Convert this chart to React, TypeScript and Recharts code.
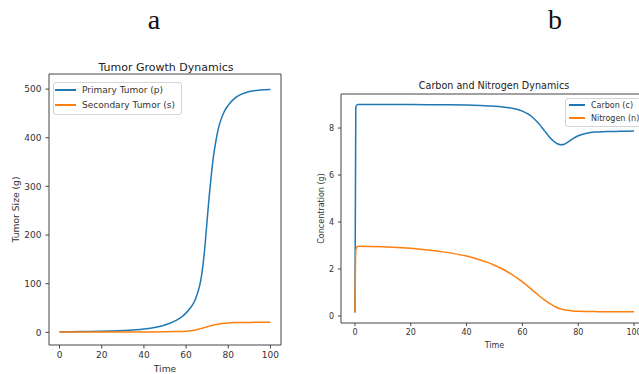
import { LineChart, Line, XAxis, YAxis, Legend, Label, ReferenceLine } from "recharts";

// panel a: tumor growth
const tumorTime = [0, 10, 20, 30, 40, 45, 50, 55, 58, 60, 62, 64, 65, 66, 67, 68, 69, 70, 71, 72, 73, 74, 75, 76, 78, 80, 83, 86, 90, 95, 100];
const primaryTumor = [1, 1.5, 2.3, 3.8, 7, 10, 15, 24, 32, 40, 50, 64, 75, 89, 108, 138, 180, 232, 282, 325, 362, 390, 413, 430, 453, 467, 481, 489, 495, 498, 499];
const secondaryTumor = [0.5, 0.5, 0.6, 0.7, 0.8, 0.9, 1.1, 1.5, 2, 2.5, 3.2, 4.5, 5.4, 6.5, 7.7, 9, 10.2, 11.5, 12.8, 14, 15, 16, 16.8, 17.5, 18.7, 19.4, 20, 20.3, 20.5, 20.6, 20.6];

// panel b: carbon / nitrogen
const cnTime = [0, 0.3, 1, 10, 20, 30, 40, 45, 48, 50, 53, 56, 58, 60, 62, 64, 66, 68, 69, 70, 71, 72, 73, 74, 75, 76, 78, 80, 83, 86, 90, 95, 100];
const carbon = [0.15, 8.9, 9.0, 9.0, 9.0, 8.99, 8.98, 8.96, 8.94, 8.93, 8.9, 8.85, 8.8, 8.72, 8.6, 8.42, 8.17, 7.87, 7.72, 7.58, 7.46, 7.37, 7.31, 7.29, 7.31, 7.38, 7.54, 7.67, 7.78, 7.83, 7.85, 7.86, 7.87];
const nitrogen = [0.15, 2.8, 2.97, 2.95, 2.88, 2.75, 2.55, 2.38, 2.26, 2.16, 1.99, 1.78, 1.62, 1.45, 1.26, 1.06, 0.86, 0.67, 0.59, 0.51, 0.44, 0.38, 0.33, 0.29, 0.26, 0.24, 0.215, 0.2, 0.19, 0.185, 0.18, 0.18, 0.18];

const timeTicks = [0, 20, 40, 60, 80, 100];
const tumorTicks = [0, 100, 200, 300, 400, 500];
const concTicks = [0, 2, 4, 6, 8];

const BLUE = "#1f77b4";
const ORANGE = "#ff7f0e";
const FONT = "DejaVu Sans";
const TEXT = "#333";
const SPINE = "#444";

const tumorData = tumorTime.map((t, i) => ({ t, p: primaryTumor[i], s: secondaryTumor[i] }));
const cnData = cnTime.map((t, i) => ({ t, c: carbon[i], n: nitrogen[i] }));

const yLabel = (text: string, x: number, size: number) => (props: any) => {
  const vb = props.viewBox;
  const cy = vb.y + vb.height / 2;
  return (
    <text
      x={x}
      y={cy}
      transform={`rotate(-90 ${x} ${cy})`}
      textAnchor="middle"
      dominantBaseline="central"
      fontSize={size}
      fill={TEXT}
      fontFamily={FONT}
    >
      {text}
    </text>
  );
};

const LegendBox = ({ items, fontSize, lineW, rowH, pad }: any) => (
  <div
    style={{
      border: "1px solid #d4d4d4",
      borderRadius: 3,
      background: "rgba(255,255,255,0.85)",
      padding: pad,
      fontFamily: FONT,
      fontSize,
      color: TEXT,
      whiteSpace: "nowrap",
    }}
  >
    {items.map((it: any) => (
      <div key={it.label} style={{ display: "flex", alignItems: "center", height: rowH }}>
        <span style={{ width: lineW, height: 2, background: it.color, marginRight: 6 }} />
        {it.label}
      </div>
    ))}
  </div>
);

const Title = ({ text, x, top, size }: any) => (
  <div
    style={{
      position: "absolute",
      left: x,
      top,
      transform: "translateX(-50%)",
      fontFamily: FONT,
      fontSize: size,
      lineHeight: `${size}px`,
      color: "#222",
      whiteSpace: "nowrap",
    }}
  >
    {text}
  </div>
);

const PanelLetter = ({ text, x }: any) => (
  <div
    style={{
      position: "absolute",
      left: x,
      top: 6,
      transform: "translateX(-50%)",
      fontFamily: "Liberation Serif",
      fontSize: 28,
      lineHeight: "28px",
      color: "#111",
    }}
  >
    {text}
  </div>
);

export default function App() {
  return (
    <div
      style={{
        position: "fixed",
        left: 0,
        top: 0,
        width: 639,
        height: 374,
        overflow: "hidden",
        background: "#fff",
      }}
    >
      <PanelLetter text="a" x={154} />
      <PanelLetter text="b" x={555} />
      <Title text="Tumor Growth Dynamics" x={166} top={62} size={11} />
      <Title text="Carbon and Nitrogen Dynamics" x={494} top={81} size={9.6} />

      <div style={{ position: "absolute", left: 0, top: 0 }}>
        <LineChart width={300} height={374} data={tumorData} margin={{ top: 74, right: 19, bottom: 2, left: 5 }}>
          <XAxis
            dataKey="t"
            type="number"
            domain={[-5, 105]}
            ticks={timeTicks}
            height={27}
            stroke={SPINE}
            tickSize={3.5}
            tickMargin={3}
            tick={{ fontSize: 9, fill: TEXT, fontFamily: FONT }}
          >
            <Label value="Time" position="insideBottom" offset={0} fontSize={9.2} fill={TEXT} fontFamily={FONT} />
          </XAxis>
          <YAxis
            type="number"
            domain={[-26, 531]}
            ticks={tumorTicks}
            width={44}
            stroke={SPINE}
            tickSize={3.5}
            tickMargin={4}
            tick={{ fontSize: 9, fill: TEXT, fontFamily: FONT }}
          >
            <Label content={yLabel("Tumor Size (g)", 15, 9.2)} />
          </YAxis>
          <ReferenceLine y={531} stroke={SPINE} ifOverflow="visible" />
          <ReferenceLine x={105} stroke={SPINE} ifOverflow="visible" />
          <Legend
            layout="vertical"
            align="center"
            verticalAlign="middle"
            wrapperStyle={{ left: 53, top: 82, width: "auto", height: "auto" }}
            content={() => (
              <LegendBox
                fontSize={9}
                lineW={21}
                rowH={14.4}
                pad="0 6px 2px 1px"
                items={[
                  { label: "Primary Tumor (p)", color: BLUE },
                  { label: "Secondary Tumor (s)", color: ORANGE },
                ]}
              />
            )}
          />
          <Line type="monotone" dataKey="p" stroke={BLUE} strokeWidth={1.5} dot={false} isAnimationActive={false} />
          <Line type="monotone" dataKey="s" stroke={ORANGE} strokeWidth={1.5} dot={false} isAnimationActive={false} />
        </LineChart>
      </div>

      <div style={{ position: "absolute", left: 290, top: 0 }}>
        <LineChart width={358} height={374} data={cnData} margin={{ top: 94, right: 0, bottom: 25, left: 20 }}>
          <XAxis
            dataKey="t"
            type="number"
            domain={[-5, 105]}
            ticks={timeTicks}
            height={26}
            stroke={SPINE}
            tickSize={3}
            tickMargin={3}
            tick={{ fontSize: 8, fill: TEXT, fontFamily: FONT }}
          >
            <Label value="Time" position="insideBottom" offset={1} fontSize={8} fill={TEXT} fontFamily={FONT} />
          </XAxis>
          <YAxis
            type="number"
            domain={[-0.3, 9.45]}
            ticks={concTicks}
            width={31}
            stroke={SPINE}
            tickSize={3}
            tickMargin={4}
            tick={{ fontSize: 8, fill: TEXT, fontFamily: FONT }}
          >
            <Label content={yLabel("Concentration (g)", 31.7, 8)} />
          </YAxis>
          <ReferenceLine y={9.45} stroke={SPINE} ifOverflow="visible" />
          <Legend
            layout="vertical"
            align="center"
            verticalAlign="middle"
            wrapperStyle={{ left: 275, top: 98, width: "auto", height: "auto" }}
            content={() => (
              <LegendBox
                fontSize={8}
                lineW={16}
                rowH={12.7}
                pad="0 4px 2px 3px"
                items={[
                  { label: "Carbon (c)", color: BLUE },
                  { label: "Nitrogen (n)", color: ORANGE },
                ]}
              />
            )}
          />
          <Line type="monotone" dataKey="c" stroke={BLUE} strokeWidth={1.5} dot={false} isAnimationActive={false} />
          <Line type="monotone" dataKey="n" stroke={ORANGE} strokeWidth={1.5} dot={false} isAnimationActive={false} />
        </LineChart>
      </div>
    </div>
  );
}
